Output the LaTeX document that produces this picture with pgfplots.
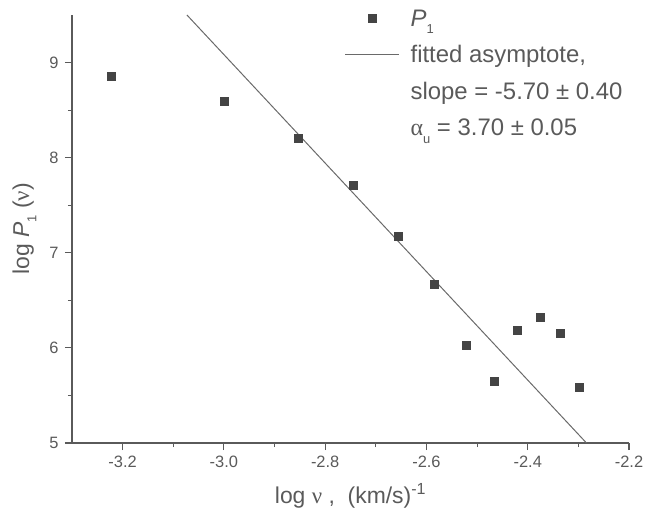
\documentclass[border=0pt]{standalone}
\usepackage{fontspec}
\setmainfont{Liberation Sans}
\newfontfamily\greek{Liberation Serif}
\usepackage{pgfplots}
\pgfplotsset{compat=1.18}

\definecolor{axgray}{HTML}{5A5A5A}
\definecolor{ptgray}{HTML}{444444}
\definecolor{fitgray}{HTML}{6A6A6A}

\begin{document}
\begin{tikzpicture}
\begin{axis}[
    scale only axis,
    width=557bp, height=428bp,
    xmin=-3.3, xmax=-2.2,
    ymin=5, ymax=9.5,
    axis lines*=left,
    axis line style={axgray, line width=1.2bp, -},
    xtick={-3.2,-3.0,-2.8,-2.6,-2.4,-2.2},
    xticklabels={-3.2,-3.0,-2.8,-2.6,-2.4,-2.2},
    minor xtick={-3.1,-2.9,-2.7,-2.5,-2.3},
    ytick={5,6,7,8,9},
    minor ytick={5.5,6.5,7.5,8.5},
    tick align=outside,
    major tick length=7bp,
    minor tick length=4bp,
    tick style={axgray, line width=1.1bp},
    tick label style={font=\fontsize{16.5}{18}\selectfont, text=axgray},
    /pgf/number format/assume math mode=true,
    xticklabel style={yshift=-3bp},
    yticklabel style={xshift=-3bp},
    label style={font=\fontsize{23}{26}\selectfont, text=axgray},
    xlabel={log {\greek ν} ,\ \ (km/s)\textsuperscript{-1}},
    ylabel={log \textit{P}\raisebox{-0.6ex}{\fontsize{13}{13}\selectfont 1} ({\greek ν})},
    xlabel style={yshift=-8bp},
    ylabel style={yshift=6bp},
    clip=false,
    legend style={draw=none, fill=none, at={(axis cs:-2.762,9.58)}, anchor=north west,
        inner sep=0pt, font=\fontsize{24}{26}\selectfont, text=axgray,
        row sep=14bp,
        /tikz/every odd column/.append style={column sep=9bp}},
    legend cell align=left,
    legend image code/.code={\draw[mark repeat=2,mark phase=2,#1] plot coordinates {(0bp,0bp)(27bp,0bp)(54bp,0bp)};},
]
\addplot[only marks, mark=square*, mark size=4bp, ptgray, mark options={fill=ptgray, draw=ptgray}] coordinates {
(-3.223,8.856) (-3.000,8.593) (-2.854,8.207) (-2.744,7.708) (-2.656,7.172)
(-2.585,6.667) (-2.522,6.024) (-2.467,5.649) (-2.420,6.182) (-2.375,6.323)
(-2.336,6.151) (-2.299,5.589)};
\addlegendentry{\textit{P}\raisebox{-0.6ex}{\fontsize{13}{13}\selectfont 1}}
\addplot[fitgray, line width=1bp, no marks] coordinates {(-3.073,9.5) (-2.284,5.0)};
\addlegendentry{fitted asymptote,}
\addlegendimage{empty legend}
\addlegendentry{slope = -5.70 ± 0.40}
\addlegendimage{empty legend}
\addlegendentry{{\greek α}\raisebox{-0.6ex}{\fontsize{13}{13}\selectfont u} = 3.70 ± 0.05}
\end{axis}
\pgfresetboundingbox
\useasboundingbox (-72bp,-79bp) rectangle (575bp,443bp);
\end{tikzpicture}
\end{document}
